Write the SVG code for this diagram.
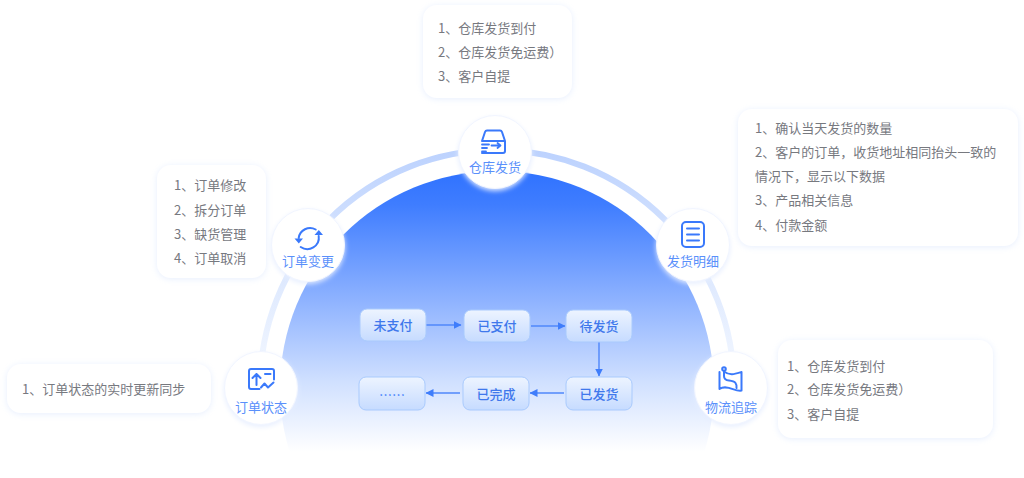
<svg xmlns="http://www.w3.org/2000/svg" width="1024" height="478" viewBox="0 0 1024 478">
<style>
text{font-family:"Noto Sans CJK SC","Liberation Sans",sans-serif}
.card{fill:#fff;filter:url(#cs)}
.t{font-size:13px;fill:#77797f}
.nc{fill:#fff;stroke:#f1f5ff;stroke-width:1;filter:url(#ns)}
.nl{font-size:13px;fill:#5a90fb;text-anchor:middle}
.ic{fill:none;stroke:#3a79fb;stroke-width:2;stroke-linecap:round;stroke-linejoin:round}
.st{fill:url(#box);stroke:#a9cafd;stroke-width:1}
.sl{font-size:13px;font-weight:500;fill:#3f78ec;text-anchor:middle}
.ln{fill:none;stroke:#4f87fb;stroke-width:1.4;marker-end:url(#a)}
</style>
<defs>
<linearGradient id="dome" x1="0" y1="171" x2="0" y2="452" gradientUnits="userSpaceOnUse">
<stop offset="0" stop-color="#2f72ff"/><stop offset=".12" stop-color="#3f7dff"/><stop offset=".45" stop-color="#8cb1ff"/><stop offset=".75" stop-color="#d0e0ff"/><stop offset="1" stop-color="#fff"/>
</linearGradient>
<linearGradient id="ring" x1="0" y1="150" x2="0" y2="440" gradientUnits="userSpaceOnUse">
<stop offset="0" stop-color="#bcd2fe"/><stop offset=".4" stop-color="#dbe7fe"/><stop offset=".7" stop-color="#eef4ff"/><stop offset=".92" stop-color="#fff"/>
</linearGradient>
<linearGradient id="box" x1="0" y1="0" x2="0" y2="1"><stop offset="0" stop-color="#edf4ff"/><stop offset="1" stop-color="#c6dbff"/></linearGradient>
<filter id="cs" x="-20%" y="-30%" width="140%" height="160%"><feDropShadow dx="0" dy="1" stdDeviation="3" flood-color="#c9d9fb" flood-opacity=".45"/></filter>
<filter id="ns" x="-20%" y="-20%" width="140%" height="140%"><feDropShadow dx="0" dy="2" stdDeviation="2.5" flood-color="#e6eeff" flood-opacity=".95"/></filter>
<marker id="a" viewBox="0 0 8 8" markerWidth="8" markerHeight="8" refX="7.500" refY="4" orient="auto" markerUnits="userSpaceOnUse"><path d="M0 0L8 4L0 8Z" fill="#3f7dfb"/></marker>
</defs>
<rect width="1024" height="478" fill="#fff"/>
<circle cx="497" cy="387" r="237" fill="none" stroke="url(#ring)" stroke-width="6" id="ring-arc"/>
<circle cx="497" cy="388" r="217" fill="url(#dome)" id="dome-shape"/>
<rect x="240" y="452" width="520" height="26" fill="#fff"/>
<g id="card-warehouse"><rect class="card" x="423" y="5" width="149" height="93" rx="14"/>
<text class="t" x="438" y="33">1、仓库发货到付</text><text class="t" x="438" y="57">2、仓库发货免运费）</text><text class="t" x="438" y="81">3、客户自提</text></g>
<g id="card-detail"><rect class="card" x="738" y="109" width="280" height="137" rx="14"/>
<text class="t" x="755" y="133">1、确认当天发货的数量</text><text class="t" x="755" y="157">2、客户的订单，收货地址相同抬头一致的</text><text class="t" x="755" y="181">情况下，显示以下数据</text><text class="t" x="755" y="205">3、产品相关信息</text><text class="t" x="755" y="230">4、付款金额</text></g>
<g id="card-change"><rect class="card" x="157" y="165" width="109" height="113" rx="14"/>
<text class="t" x="174" y="190">1、订单修改</text><text class="t" x="174" y="215">2、拆分订单</text><text class="t" x="174" y="239">3、缺货管理</text><text class="t" x="174" y="263">4、订单取消</text></g>
<g id="card-status"><rect class="card" x="7" y="364" width="204" height="49" rx="14"/>
<text class="t" x="22" y="394">1、订单状态的实时更新同步</text></g>
<g id="card-logistics"><rect class="card" x="778" y="340" width="215" height="98" rx="14"/>
<text class="t" x="787" y="371">1、仓库发货到付</text><text class="t" x="787" y="394">2、仓库发货免运费）</text><text class="t" x="787" y="419">3、客户自提</text></g>
<g id="node-warehouse"><circle class="nc" cx="495" cy="152" r="36.500"/>
<path class="ic" d="M482 141l3-9q.5-1.500 2-1.500h13q1.500 0 2 1.500l3 9v10q0 2-2 2h-21M482 141h23"/>
<path class="ic" style="stroke-width:1.800" d="M482 144.500h7M482 148h5M482 151.500h4M491.500 145.500h8.500m-2.500-2.500l3 2.500-3 2.500"/>
<text class="nl" x="495" y="172">仓库发货</text></g>
<g id="node-detail"><circle class="nc" cx="693" cy="245" r="36.500"/>
<rect class="ic" x="682" y="222" width="22" height="25" rx="4"/><path class="ic" d="M687 228.500h12M687 234.500h12M687 240.500h12"/>
<text class="nl" x="693" y="266">发货明细</text></g>
<g id="node-change"><circle class="nc" cx="308" cy="245" r="36.500"/>
<path class="ic" d="M298.700 238a11.500 11.500 0 0 1 17-8.500M318.700 236a11.500 11.500 0 0 1-18 11"/>
<path d="M294.500 238.500h8.500l-4.200 5zM314.500 235h8.500l-4.200-5z" fill="#3a79fb"/>
<text class="nl" x="308" y="266">订单变更</text></g>
<g id="node-status"><circle class="nc" cx="261" cy="388" r="36.500"/>
<path class="ic" d="M259.500 389h-8.500q-2 0-2-2v-16q0-2 2-2h21q2 0 2 2v8.500M256.500 385v-11m-4 4l4-4 4 4M265 374h5.500"/>
<path class="ic" d="M261 387.500l3.500-4 3.500 4 5.500-5"/>
<text class="nl" x="261" y="412">订单状态</text></g>
<g id="node-logistics"><circle class="nc" cx="731" cy="388" r="36.500"/>
<path class="ic" d="M719.500 372v17C727 384 735 392 741.500 390.500V372C735 374 730 376 724 371.500"/>
<path class="ic" d="M724 372v4q0 4 5 4.500t6.500 2.500 1 5"/>
<circle class="ic" cx="724" cy="369" r="1.800"/>
<text class="nl" x="731" y="412">物流追踪</text></g>
<g id="connectors">
<path class="ln" d="M426 325H461"/><path class="ln" d="M531 326H565"/><path class="ln" d="M599 342V376"/>
<path class="ln" d="M564 393H530"/><path class="ln" d="M460 393H426"/>
</g>
<g id="s1"><rect class="st" x="360" y="309" width="66" height="32" rx="7"/><text class="sl" x="393" y="330">未支付</text></g>
<g id="s2"><rect class="st" x="464" y="310" width="66" height="32" rx="7"/><text class="sl" x="497" y="331">已支付</text></g>
<g id="s3"><rect class="st" x="566" y="310" width="66" height="32" rx="7"/><text class="sl" x="599" y="331">待发货</text></g>
<g id="s4"><rect class="st" x="566" y="377" width="66" height="33" rx="7"/><text class="sl" x="599" y="399">已发货</text></g>
<g id="s5"><rect class="st" x="463" y="377" width="66" height="33" rx="7"/><text class="sl" x="496" y="399">已完成</text></g>
<g id="s6"><rect class="st" x="359" y="377" width="66" height="33" rx="7"/><text class="sl" x="392" y="400" style="fill:#3f7dfb">……</text></g>
</svg>
